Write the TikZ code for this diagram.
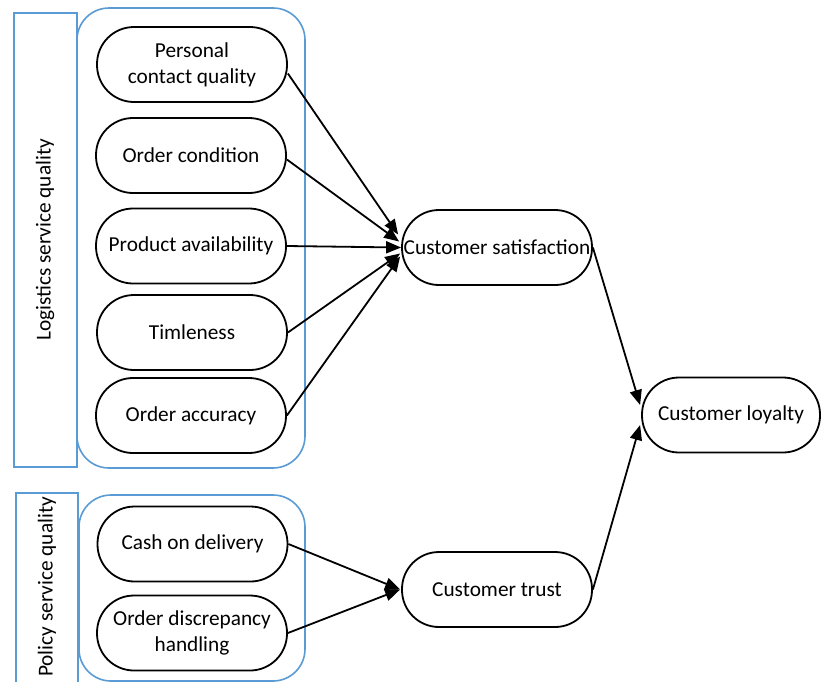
\documentclass[tikz,border=0pt]{standalone}
\usepackage{fontspec}
\setmainfont{Carlito}
\usetikzlibrary{arrows.meta}
\definecolor{grpblue}{RGB}{91,155,213}
\tikzset{
  factor/.style={draw, line width=1.8pt, rounded corners=37pt, minimum width=190pt, minimum height=75pt, align=center, inner sep=0pt, font=\fontsize{21.3}{26}\selectfont},
  grp/.style={draw=grpblue, line width=1.6pt},
  arr/.style={line width=1.8pt, -{Triangle[length=15pt,width=12pt]}},
  vlabel/.style={rotate=90, font=\fontsize{21.3}{26}\selectfont}
}
\begin{document}
\begin{tikzpicture}[x=1pt,y=-1pt]
\useasboundingbox (0,0) rectangle (821,681);
\clip (0,0) rectangle (821,681);
\fill[white] (0,0) rectangle (821,681);
% group frames
\draw[grp] (14,13) rectangle (77,467);
\draw[grp, rounded corners=32pt] (77,8) rectangle (305,468);
\draw[grp] (16,493) rectangle (78,720);
\draw[grp, rounded corners=32pt] (79,495) rectangle (305,681);
\node[vlabel] (llab) at (45,240) {Logistics service quality};
\node[vlabel] (plab) at (47,587) {Policy service quality};
% factor nodes
\node[factor] (pcq) at (192,64.5) {Personal\\contact quality};
\node[factor] (oc) at (191,155.5) {Order condition};
\node[factor] (pa) at (191,246) {Product availability};
\node[factor] (tim) at (192,332.5) {Timleness};
\node[factor] (oa) at (191,415.5) {Order accuracy};
\node[factor] (cod) at (192.5,544) {Cash on delivery};
\node[factor] (odh) at (192,633) {Order discrepancy\\handling};
\node[factor] (sat) at (497,247.5) {Customer satisfaction};
\node[factor, minimum width=178pt] (loy) at (731,415) {Customer loyalty};
\node[factor] (tru) at (497,589.5) {Customer trust};
% arrows
\draw[arr] ([yshift=-9pt]pcq.east) -- ([xshift=-3pt,yshift=13pt]sat.west);
\draw[arr] ([yshift=-4pt]oc.east) -- ([xshift=-2pt,yshift=6pt]sat.west);
\draw[arr] (pa.east) -- (sat.west);
\draw[arr] (tim.east) -- ([xshift=-1pt,yshift=-6pt]sat.west);
\draw[arr] (oa.east) -- ([xshift=-1pt,yshift=-9pt]sat.west);
\draw[arr] (cod.east) -- ([xshift=-1pt]tru.west);
\draw[arr] (odh.east) -- ([xshift=-1pt]tru.west);
\draw[arr] (sat.east) -- ([xshift=-1pt,yshift=10pt]loy.west);
\draw[arr] (tru.east) -- ([xshift=-1pt,yshift=-10pt]loy.west);
\end{tikzpicture}
\end{document}
